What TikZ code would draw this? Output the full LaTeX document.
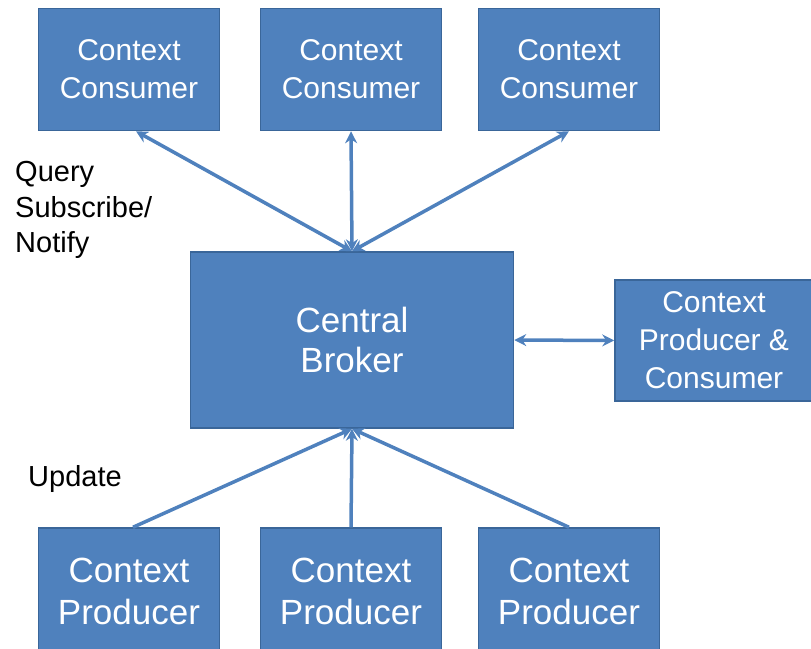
\documentclass[tikz,border=0pt]{standalone}
\usepackage{fontspec}
\setmainfont{Liberation Sans}
\usetikzlibrary{arrows.meta}
\definecolor{boxblue}{HTML}{4F81BD}
\definecolor{boxedge}{HTML}{3A6699}
\begin{document}
\begin{tikzpicture}[x=1pt,y=-1pt,
    box/.style={draw=boxedge, line width=1.5pt, fill=boxblue, text=white,
      align=center, inner sep=0pt},
    small/.style={box, minimum width=181pt, minimum height=122pt,
      font=\fontsize{30}{38}\selectfont},
    big/.style={box, minimum width=181pt, minimum height=126pt,
      font=\fontsize{35}{42}\selectfont},
    lbl/.style={align=left, inner sep=0pt, anchor=west,
      font=\fontsize{29}{35.5}\selectfont},
    link/.style={draw=boxblue, line width=3.5pt},
    tip/.tip={Stealth[length=12pt,width=12pt]}]
  \clip (0,0) rectangle (811,648);
  % consumers
  \node[small] (cons1) at (129,69.5) {Context\\Consumer};
  \node[small] (cons2) at (351,69.5) {Context\\Consumer};
  \node[small] (cons3) at (569,69.5) {Context\\Consumer};
  % broker
  \node[box, minimum width=323pt, minimum height=176pt,
    font=\fontsize{35}{40}\selectfont] (broker) at (352,340) {Central\\Broker};
  \node[small, minimum width=198pt, minimum height=121pt] (both) at (714,340.5)
    {Context\\Producer \&\\Consumer};
  % producers
  \node[big] (prod1) at (129,591) {Context\\Producer};
  \node[big] (prod2) at (351,591) {Context\\Producer};
  \node[big] (prod3) at (569,591) {Context\\Producer};
  % labels
  \node[lbl] (qsn) at (15,210) {Query\\Subscribe/\\Notify};
  \node[lbl] (upd) at (28,479) {Update};
  % query / subscribe links
  \draw[link, tip-tip] (broker.north) -- ([xshift=7pt]cons1.south);
  \draw[link, tip-tip] (broker.north) -- (cons2.south);
  \draw[link, tip-tip] (broker.north) -- (cons3.south);
  \draw[link, tip-tip] (broker.east) -- (both.west);
  % update links
  \draw[link, -tip] ([xshift=4pt]prod1.north) -- (broker.south);
  \draw[link, -tip] (prod2.north) -- (broker.south);
  \draw[link, -tip] (prod3.north) -- (broker.south);
\end{tikzpicture}
\end{document}
